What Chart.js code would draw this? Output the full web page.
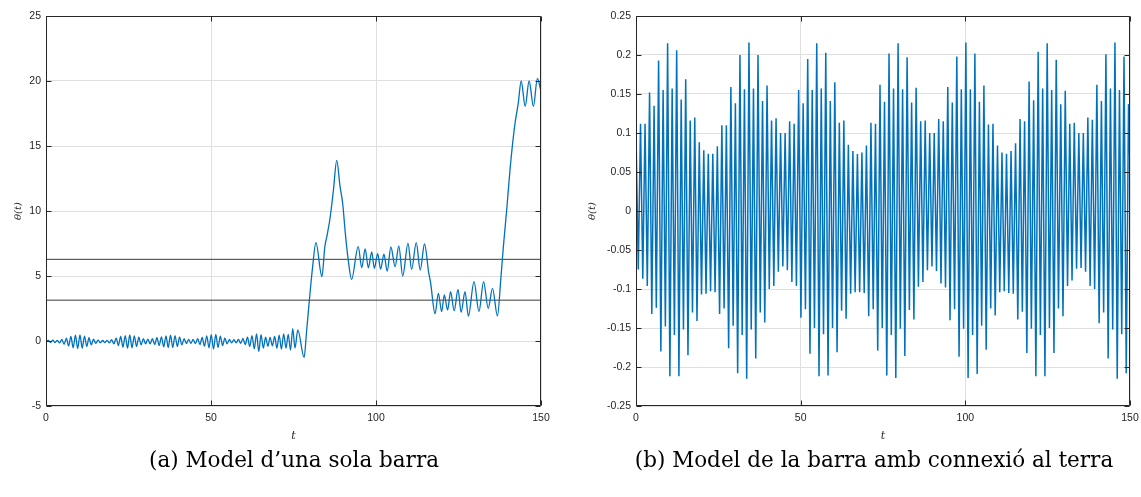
<!DOCTYPE html>
<html>
<head>
<meta charset="utf-8">
<script src="https://cdn.jsdelivr.net/npm/chart.js@4.4.1/dist/chart.umd.min.js"></script>
<style>
  html, body { margin: 0; padding: 0; background: #fff; }
  body { width: 1141px; height: 497px; position: relative; overflow: hidden; }
  #chartA { position: absolute; left: 0; top: 0; }
  #chartB { position: absolute; left: 560px; top: 0; }
  .caption {
    position: absolute; top: 446px; white-space: nowrap; line-height: 28px;
    font-family: "DejaVu Serif", serif; font-size: 21.5px; color: #000;
    transform: translateX(-50%);
  }
</style>
</head>
<body>
<canvas id="chartA" width="560" height="450"></canvas>
<canvas id="chartB" width="581" height="450"></canvas>
<div class="caption" style="left:294px">(a) Model d’una sola barra</div>
<div class="caption" style="left:874px">(b) Model de la barra amb connexió al terra</div>

<script>
// (a) single bar: theta(t), extrema and slope points
const tA = [
  0, 0.69, 1.37, 2.06, 2.74, 3.43, 4.12, 4.80, 5.49, 6.17, 6.86, 7.55, 8.23, 8.92, 9.60, 10.29,
  10.98, 11.66, 12.35, 13.03, 13.72, 14.41, 15.09, 15.78, 16.46, 17.15, 17.84, 18.52, 19.21, 19.89,
  20.58, 21.27, 21.95, 22.64, 23.32, 24.01, 24.70, 25.38, 26.07, 26.75, 27.44, 28.13, 28.81, 29.50,
  30.18, 30.87, 31.56, 32.24, 32.93, 33.61, 34.30, 34.99, 35.67, 36.36, 37.04, 37.73, 38.42, 39.10,
  39.79, 40.47, 41.16, 41.85, 42.53, 43.22, 43.90, 44.59, 45.28, 45.96, 46.65, 47.33, 48.02, 48.71,
  49.39, 50.08, 50.76, 51.45, 52.14, 52.82, 53.51, 54.19, 54.88, 55.57, 56.25, 56.94, 57.62, 58.31,
  59.00, 59.68, 60.37, 61.05, 61.74, 62.43, 63.11, 63.80, 64.48, 65.17, 65.86, 66.54, 67.23, 67.91,
  68.60, 69.29, 69.97, 70.66, 71.34, 72.03, 72.72, 73.40, 74.09, 74.77, 75.46, 76.30, 78.20,
  79.0, 80.0, 80.8, 81.8, 83.6, 84.5, 85.2, 86.1, 87.1, 88.1, 89.1, 89.9, 90.7, 91.6, 92.6,
  94.6, 95.7, 96.7, 97.7, 98.7, 99.5, 100.5, 101.4, 102.4, 103.4, 104.5, 105.8, 106.9, 108.1,
  109.7, 110.8, 112.2, 113.4, 114.7, 116.0, 116.5, 117.9,
  118.9, 119.9, 120.7, 121.7, 122.6, 123.7, 124.85, 125.8, 126.97, 128.0, 129.7, 131.2, 132.6,
  134.0, 135.3, 136.8, 137.8, 138.6, 139.6, 140.6, 141.4, 142.2, 143.1, 144.0, 145.2, 146.4,
  147.7, 148.9, 150
];
const thetaA = [
  0, 0.05, -0.10, 0.06, -0.12, 0.05, -0.15, 0.12, -0.25, 0.22, -0.38, 0.35, -0.52, 0.45, -0.58, 0.46,
  -0.55, 0.38, -0.42, 0.25, -0.30, 0.15, -0.18, 0.06, -0.14, 0.04, -0.12, 0.05, -0.15, 0.10,
  -0.22, 0.22, -0.35, 0.35, -0.48, 0.42, -0.55, 0.46, -0.52, 0.40, -0.42, 0.30, -0.30, 0.18,
  -0.22, 0.15, -0.22, 0.18, -0.28, 0.25, -0.35, 0.32, -0.45, 0.40, -0.50, 0.45, -0.50, 0.42,
  -0.42, 0.30, -0.30, 0.18, -0.20, 0.12, -0.18, 0.12, -0.20, 0.18, -0.28, 0.28, -0.40, 0.40,
  -0.52, 0.48, -0.62, 0.50, -0.50, 0.38, -0.35, 0.22, -0.22, 0.12, -0.15, 0.10, -0.14, 0.12,
  -0.18, 0.20, -0.28, 0.30, -0.42, 0.42, -0.60, 0.55, -0.80, 0.48, -0.55, 0.30, -0.40, 0.28,
  -0.38, 0.35, -0.55, 0.45, -0.62, 0.55, -0.55, 0.50, -0.70, 0.95, -0.55, 0.85, -1.26,
  0.85, 3.67, 5.72, 7.56, 4.95, 7.26, 8.15, 9.5, 11.6, 13.9, 11.9, 10.6, 8.3, 6.2, 4.74,
  7.26, 5.65, 7.08, 5.62, 6.85, 5.59, 6.71, 5.53, 6.68, 5.37, 7.23, 5.72, 7.32, 5.0,
  7.51, 5.51, 7.56, 5.46, 7.46, 5.2, 4.56, 2.1,
  3.67, 2.26, 3.54, 2.38, 3.79, 2.33, 3.97, 2.21, 3.79, 1.92, 4.56, 2.26, 4.56,
  2.51, 4.05, 1.92, 4.69, 7.26, 10.08, 13.15, 15.2, 16.87, 18.28, 20.0, 18.05, 20.0,
  18.05, 20.2, 19.2
];
// horizontal reference levels pi and 2*pi
const refLevelsA = [3.1416, 6.2832];

// (b) bar with ground connection: peaks and troughs
const tPeakB = [
  0, 1.37, 2.74, 4.12, 5.49, 6.86, 8.23, 9.60, 10.98, 12.35, 13.72, 15.09, 16.46, 17.84, 19.21,
  20.58, 21.95, 23.32, 24.70, 26.07, 27.44, 28.81, 30.18, 31.56, 32.93, 34.30, 35.67, 37.04,
  38.42, 39.79, 41.16, 42.53, 43.90, 45.28, 46.65, 48.02, 49.39, 50.76, 52.14, 53.51, 54.88,
  56.25, 57.62, 59.00, 60.37, 61.74, 63.11, 64.48, 65.86, 67.23, 68.60, 69.97, 71.34, 72.72,
  74.09, 75.46, 76.83, 78.20, 79.58, 80.95, 82.32, 83.69, 85.06, 86.44, 87.81, 89.18, 90.55,
  91.92, 93.30, 94.67, 96.04, 97.41, 98.78, 100.16, 101.53, 102.90, 104.27, 105.64, 107.02,
  108.39, 109.76, 111.13, 112.50, 113.88, 115.25, 116.62, 117.99, 119.36, 120.74, 122.11,
  123.48, 124.85, 126.22, 127.60, 128.97, 130.34, 131.71, 133.08, 134.46, 135.83, 137.20,
  138.57, 139.94, 141.32, 142.69, 144.06, 145.43, 146.80, 148.18, 149.55
];
const peakB = [
  0.100, 0.112, 0.112, 0.152, 0.135, 0.193, 0.155, 0.215, 0.157, 0.206,
  0.143, 0.169, 0.116, 0.120, 0.088, 0.078, 0.0735, 0.0735, 0.083, 0.110,
  0.110, 0.159, 0.138, 0.200, 0.156, 0.216, 0.157, 0.200, 0.141, 0.161,
  0.116, 0.119, 0.100, 0.100, 0.115, 0.112, 0.155, 0.138, 0.195, 0.155,
  0.215, 0.157, 0.203, 0.141, 0.165, 0.113, 0.116, 0.085, 0.077, 0.073,
  0.075, 0.084, 0.113, 0.112, 0.162, 0.140, 0.202, 0.157, 0.215, 0.156,
  0.197, 0.139, 0.158, 0.115, 0.116, 0.100, 0.100, 0.118, 0.115, 0.159,
  0.139, 0.198, 0.156, 0.216, 0.156, 0.202, 0.140, 0.161, 0.111, 0.112,
  0.084, 0.075, 0.0735, 0.077, 0.087, 0.118, 0.115, 0.166, 0.142, 0.204,
  0.157, 0.215, 0.155, 0.194, 0.137, 0.154, 0.112, 0.113, 0.100, 0.100,
  0.120, 0.117, 0.162, 0.141, 0.201, 0.157, 0.216, 0.155, 0.198, 0.137
];
const tTroughB = [
  0.69, 2.06, 3.43, 4.80, 6.17, 7.55, 8.92, 10.29, 11.66, 13.03, 14.41, 15.78, 17.15, 18.52,
  19.89, 21.27, 22.64, 24.01, 25.38, 26.75, 28.13, 29.50, 30.87, 32.24, 33.61, 34.99, 36.36,
  37.73, 39.10, 40.47, 41.85, 43.22, 44.59, 45.96, 47.33, 48.71, 50.08, 51.45, 52.82, 54.19,
  55.57, 56.94, 58.31, 59.68, 61.05, 62.43, 63.80, 65.17, 66.54, 67.91, 69.29, 70.66, 72.03,
  73.40, 74.77, 76.15, 77.52, 78.89, 80.26, 81.63, 83.01, 84.38, 85.75, 87.12, 88.49, 89.87,
  91.24, 92.61, 93.98, 95.35, 96.73, 98.10, 99.47, 100.84, 102.21, 103.59, 104.96, 106.33,
  107.70, 109.07, 110.45, 111.82, 113.19, 114.56, 115.93, 117.31, 118.68, 120.05, 121.42,
  122.79, 124.17, 125.54, 126.91, 128.28, 129.65, 131.03, 132.40, 133.77, 135.14, 136.51,
  137.89, 139.26, 140.63, 142.00, 143.37, 144.75, 146.12, 147.49, 148.86
];
const troughB = [
  -0.075, -0.087, -0.096, -0.132, -0.124, -0.180, -0.148, -0.212, -0.159, -0.212,
  -0.152, -0.185, -0.130, -0.141, -0.107, -0.106, -0.103, -0.104, -0.132, -0.125,
  -0.176, -0.147, -0.208, -0.159, -0.215, -0.152, -0.189, -0.130, -0.143, -0.100,
  -0.096, -0.078, -0.071, -0.076, -0.091, -0.096, -0.137, -0.126, -0.183, -0.150,
  -0.212, -0.158, -0.211, -0.150, -0.181, -0.128, -0.138, -0.106, -0.104, -0.104,
  -0.105, -0.135, -0.126, -0.179, -0.150, -0.211, -0.159, -0.214, -0.151, -0.186,
  -0.127, -0.139, -0.097, -0.091, -0.076, -0.071, -0.077, -0.093, -0.098, -0.140,
  -0.126, -0.187, -0.151, -0.214, -0.159, -0.209, -0.147, -0.178, -0.125, -0.134,
  -0.104, -0.103, -0.105, -0.106, -0.139, -0.129, -0.182, -0.151, -0.212, -0.159,
  -0.212, -0.150, -0.182, -0.125, -0.135, -0.096, -0.089, -0.074, -0.073, -0.078,
  -0.096, -0.100, -0.144, -0.130, -0.189, -0.152, -0.215, -0.158, -0.208
];
const tEndB = 150;
const thetaEndB = 0.055;

const tTicks = [0, 50, 100, 150];

const lineBlue = '#0072BD';
const axisGrey = '#262626';
const gridGrey = 'rgb(223,223,223)';

// full box with inward ticks on all four sides, like the original figure
const boxPlugin = {
  id: 'boxPlugin',
  afterDatasetsDraw(chart) {
    const { ctx, chartArea: a, scales: { x, y } } = chart;
    const L = Math.round(a.left) + 0.5, R = Math.round(a.right) - 0.5;
    const T = Math.round(a.top) + 0.5, B = Math.round(a.bottom) - 0.5;
    ctx.save();
    ctx.strokeStyle = axisGrey;
    ctx.lineWidth = 1;
    ctx.beginPath();
    x.ticks.forEach(tk => {
      const px = Math.round(x.getPixelForValue(tk.value)) + 0.5;
      ctx.moveTo(px, B); ctx.lineTo(px, B - 5);
      ctx.moveTo(px, T); ctx.lineTo(px, T + 5);
    });
    y.ticks.forEach(tk => {
      const py = Math.round(y.getPixelForValue(tk.value)) + 0.5;
      ctx.moveTo(L, py); ctx.lineTo(L + 5, py);
      ctx.moveTo(R, py); ctx.lineTo(R - 5, py);
    });
    ctx.rect(L, T, R - L, B - T);
    ctx.stroke();
    ctx.restore();
  }
};

function axisOptions(yMin, yMax, yStep, yWidth, titlePad, yTickFmt) {
  return {
    x: {
      type: 'linear', min: 0, max: 150,
      afterFit: s => { s.height = 44; s.paddingLeft = 0; s.paddingRight = 0; },
      afterBuildTicks: s => { s.ticks = tTicks.map(v => ({ value: v })); },
      grid: { color: gridGrey, drawTicks: false },
      border: { display: false },
      ticks: { color: axisGrey, padding: 6, maxRotation: 0, font: { size: 10.5 } },
      title: { display: true, text: 't', color: axisGrey, padding: { top: 0, bottom: 7 },
               font: { family: '"DejaVu Serif", serif', style: 'italic', size: 11 } }
    },
    y: {
      type: 'linear', min: yMin, max: yMax,
      afterFit: s => { s.width = yWidth; s.paddingTop = 0; s.paddingBottom = 0; },
      ticks: { stepSize: yStep, color: axisGrey, padding: 5, font: { size: 10.5 }, callback: yTickFmt },
      grid: { color: gridGrey, drawTicks: false },
      border: { display: false },
      title: { display: true, text: 'θ(t)', color: axisGrey, padding: { top: titlePad, bottom: 0 },
               font: { family: '"DejaVu Serif", serif', style: 'italic', size: 10 } }
    }
  };
}

Chart.defaults.font.family = '"Liberation Sans", Arial, sans-serif';

const baseOptions = {
  responsive: false,
  animation: false,
  devicePixelRatio: 1,
  events: [],
  plugins: { legend: { display: false }, tooltip: { enabled: false } }
};

// chart (a)
const pointsA = tA.map((t, i) => ({ x: t, y: thetaA[i] }));
const refSets = refLevelsA.map(v => ({
  data: [{ x: 0, y: v }, { x: 150, y: v }],
  borderColor: '#3a3a3a', borderWidth: 1, pointRadius: 0
}));

new Chart(document.getElementById('chartA'), {
  type: 'line',
  data: {
    datasets: [
      { data: pointsA, borderColor: lineBlue, borderWidth: 1.3, pointRadius: 0,
        cubicInterpolationMode: 'monotone' },
      ...refSets
    ]
  },
  options: {
    ...baseOptions,
    layout: { padding: { left: 0, top: 16, right: 19, bottom: 0 } },
    scales: axisOptions(-5, 25, 5, 46, 12, v => String(v))
  },
  plugins: [boxPlugin]
});

// chart (b)
const pointsB = [];
tPeakB.forEach((t, i) => pointsB.push({ x: t, y: peakB[i] }));
tTroughB.forEach((t, i) => pointsB.push({ x: t, y: troughB[i] }));
pointsB.push({ x: tEndB, y: thetaEndB });
pointsB.sort((a, b) => a.x - b.x);

new Chart(document.getElementById('chartB'), {
  type: 'line',
  data: {
    datasets: [
      { data: pointsB, borderColor: lineBlue, borderWidth: 1.5, pointRadius: 0, tension: 0 }
    ]
  },
  options: {
    ...baseOptions,
    layout: { padding: { left: 0, top: 16, right: 11, bottom: 0 } },
    scales: axisOptions(-0.25, 0.25, 0.05, 76, 26, v => String(+v.toFixed(2)))
  },
  plugins: [boxPlugin]
});
</script>
</body>
</html>
